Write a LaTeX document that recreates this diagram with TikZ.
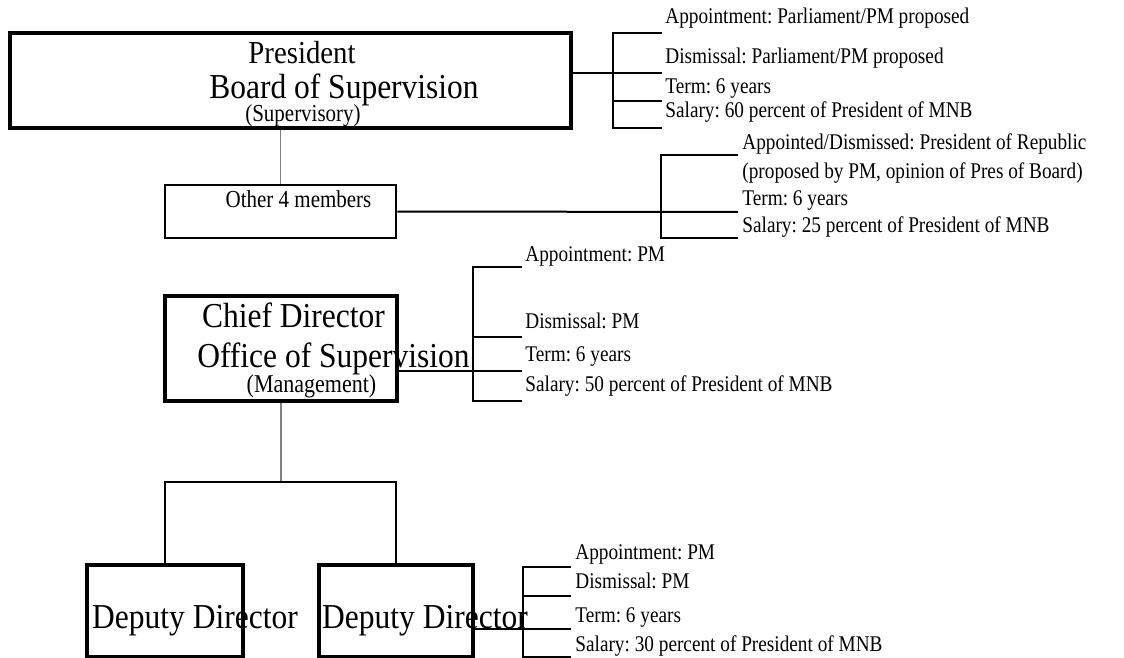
\documentclass[tikz,border=0pt]{standalone}
\usepackage{fontspec}
\setmainfont{Liberation Serif}
\newfontfamily\condserif[FakeStretch=0.9]{Liberation Serif}
\newfontfamily\narrowserif[FakeStretch=0.86]{Liberation Serif}
\usepackage{tikz}
\usetikzlibrary{positioning}
\frenchspacing

\begin{document}
\begin{tikzpicture}[x=0.5pt, y=-0.5pt,
        heavybox/.style={draw, line width=1.7pt, inner sep=0pt},
        lightbox/.style={draw, line width=1.3pt, inner sep=0pt},
        brk/.style={line width=1pt},
        feed/.style={draw=gray, line width=0.6pt},
        big/.style={font=\condserif\fontsize{17.5}{19}\selectfont, inner sep=0pt, anchor=base},
        sub/.style={font=\narrowserif\fontsize{12.2}{14}\selectfont, inner sep=0pt, anchor=base},
        lbl/.style={font=\narrowserif\fontsize{11.2}{13}\selectfont, inner sep=0pt, anchor=base west}]
        \useasboundingbox (0,0) rectangle (1124,658);

        % boxes
        \node[heavybox, minimum width=280.5pt, minimum height=47.5pt] (pres) at (290.5,80.5) {};
        \node[lightbox, minimum width=115.5pt, minimum height=26.5pt] (memb) at (280.5,211.5) {};
        \node[heavybox, minimum width=116pt, minimum height=52.5pt] (chief) at (281,348.5) {};
        \node[heavybox, minimum width=78pt, minimum height=46pt] (dep1) at (165,611) {};
        \node[heavybox, minimum width=77pt, minimum height=46pt] (dep2) at (396,611) {};

        % box texts
        \node[big, font=\condserif\fontsize{16}{18}\selectfont] (presA) at (302,64) {President};
        \node[big] (presB) at (344,99) {Board of Supervision};
        \node[sub] (presC) at (303,121) {(Supervisory)};
        \node[sub] (membA) at (298.5,207) {Other 4 members};
        \node[big] (chiefA) at (293.5,327) {Chief Director};
        \node[big] (chiefB) at (333.5,367) {Office of Supervision};
        \node[sub, font=\narrowserif\fontsize{12.8}{15}\selectfont] (chiefC) at (311.5,392) {(Management)};
        \node[big] (dep1A) at (195,628) {Deputy Director};
        \node[big] (dep2A) at (425,628) {Deputy Director};

        % hierarchy
        \coordinate (split) at (281,482);
        \draw[feed] (memb.north) -- (memb.north |- pres.south);
        \draw[feed] (chief.south) -- (split);
        \draw[brk] (dep1.north) |- (split) -| (dep2.north);

        % president terms
        \coordinate (pb) at (613,73);
        \draw[brk] (pres.east |- pb) -- (662,73);
        \draw[brk] (662,33) -| (613,128) -- (662,128);
        \draw[brk] (613,101) -- (662,101);
        \node[lbl] (pt1) at (665,24) {Appointment: Parliament/PM proposed};
        \node[lbl] (pt2) at (665,64) {Dismissal: Parliament/PM proposed};
        \node[lbl] (pt3) at (665,94) {Term: 6 years};
        \node[lbl] (pt4) at (665,118) {Salary: 60 percent of President of MNB};

        % members terms
        \draw[brk] (memb.east) -- (738,212);
        \draw[brk] (738,155) -| (661,238) -- (738,238);
        \node[lbl] (mt1) at (742,149) {Appointed/Dismissed: President of Republic};
        \node[lbl] (mt2) at (742,178) {(proposed by PM, opinion of Pres of Board)};
        \node[lbl] (mt3) at (742,205) {Term: 6 years};
        \node[lbl] (mt4) at (742,232) {Salary: 25 percent of President of MNB};

        % chief director terms
        \coordinate (cb) at (473,371);
        \draw[brk] (chief.east |- cb) -- (522,371);
        \draw[brk] (522,267) -| (473,401) -- (522,401);
        \draw[brk] (473,337) -- (522,337);
        \node[lbl] (ct1) at (525,261) {Appointment: PM};
        \node[lbl] (ct2) at (525,328) {Dismissal: PM};
        \node[lbl] (ct3) at (525,361) {Term: 6 years};
        \node[lbl] (ct4) at (525,391) {Salary: 50 percent of President of MNB};

        % deputy director terms
        \coordinate (db) at (523,629);
        \draw[brk] (dep2.east |- db) -- (571,629);
        \draw[brk] (571,567) -| (523,657) -- (571,657);
        \draw[brk] (523,596) -- (571,596);
        \node[lbl] (dt1) at (575,559) {Appointment: PM};
        \node[lbl] (dt2) at (575,588) {Dismissal: PM};
        \node[lbl] (dt3) at (575,622) {Term: 6 years};
        \node[lbl] (dt4) at (575,651) {Salary: 30 percent of President of MNB};
    \end{tikzpicture}
\end{document}
